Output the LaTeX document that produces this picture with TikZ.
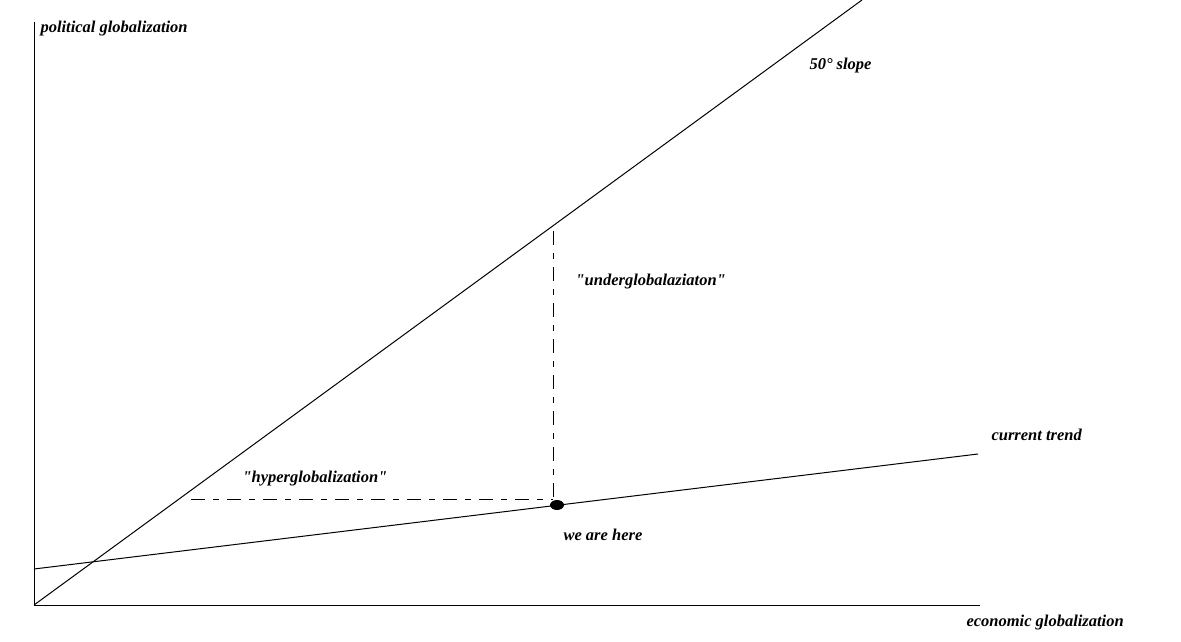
\documentclass[tikz,border=0pt]{standalone}
\usepackage{fontspec}
\usetikzlibrary{shapes.geometric}
\setmainfont{Liberation Serif}[Ligatures=TeXOff]
\begin{document}
\begin{tikzpicture}[x=1pt,y=-1pt,line width=1pt,
  lbl/.style={anchor=west,inner sep=0pt,font=\fontsize{16.5}{18}\selectfont\bfseries\itshape},
  dashdot/.style={dash pattern=on 14pt off 8pt on 6pt off 8pt}]
\useasboundingbox (0,0) rectangle (1181,642);
\coordinate (O) at (34,605);
\coordinate (Ytop) at (34,22);
\coordinate (Xend) at (980,605);
\coordinate (Send) at (862,0);
\coordinate (T0) at (34,569);
\coordinate (T1) at (978,454);
\coordinate (Vtop) at (553,231);
\coordinate (Hleft) at (191,499);
\coordinate (Corner) at (553,499);
\draw (Ytop) -- (O) -- (Xend);
\draw (O) -- (Send);
\draw (T0) -- (T1);
\draw[dashdot] (Hleft) -- (Corner);
\draw[dashdot] (Vtop) -- (Corner);
\node[fill=black,ellipse,minimum width=14pt,minimum height=10pt,inner sep=0pt] (dot) at (557,505) {};
\node[lbl] (pg) at (40,29) {political globalization};
\node[lbl] (slope) at (809,66) {50° slope};
\node[lbl] (under) at (575,282) {"underglobalaziaton"};
\node[lbl] (hyper) at (242,479) {"hyperglobalization"};
\node[lbl] (here) at (563,535) {we are here};
\node[lbl] (trend) at (991,435) {current trend};
\node[lbl] (eg) at (966,623) {economic globalization};
\end{tikzpicture}
\end{document}
